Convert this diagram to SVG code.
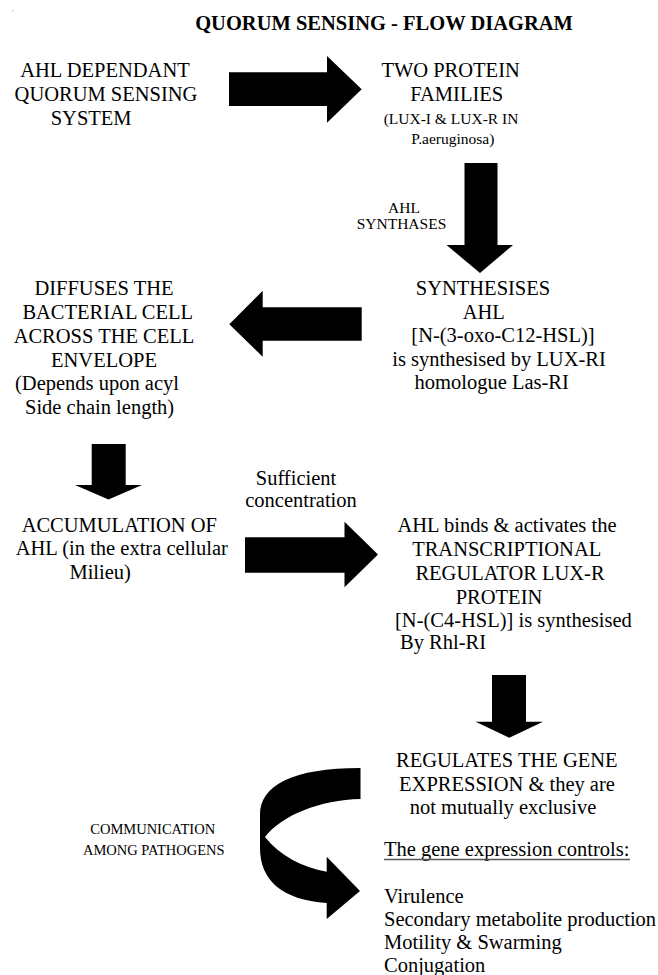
<svg xmlns="http://www.w3.org/2000/svg" width="658" height="975" viewBox="0 0 658 975">
<style>
text{font-family:"Liberation Serif","Times New Roman",serif;font-size:20.5px;fill:#000}
.m{text-anchor:middle}
.sm{font-size:15.5px}
.xs{font-size:14.5px}
.b{font-weight:bold}
.arrow{fill:#000;stroke:none}
</style>
<rect width="658" height="975" fill="#fff"/>
<circle cx="12.7" cy="10.7" r="0.7" fill="#aaa"/>
<g id="title"><text class="b m" x="384" y="30">QUORUM SENSING - FLOW DIAGRAM</text></g>

<g id="connectors">
  <path class="arrow" d="M229 72.3H327V56L361.7 89.3L327 122.7V106H229Z"/>
  <path class="arrow" d="M464.5 163H497.5V245H513L480 273L446.5 245H464.5Z"/>
  <path class="arrow" d="M229.3 324.3L262.7 290.7V307.3H361.7V340.7H262.7V356.7Z"/>
  <path class="arrow" d="M91.7 444H125.7V485H142L108.5 499.5L75 485H91.7Z"/>
  <path class="arrow" d="M245 537.3H344.5V521.7L378 554.5L344.5 587.3V572.7H245Z"/>
  <path class="arrow" d="M492 675H526V721.7H543L509.3 737.7L475.6 721.7H492Z"/>
  <path class="arrow" d="M360.5 768L360.5 799C320 800 282 815 265 837C280 856 302 867 326.7 871.7L326.7 856.7L360 891L326.7 919L326.7 903C282 900 260 880 260 848L260 815C260 785 293 768 360.5 768Z"/>
</g>

<g id="label-synthases">
  <text class="sm m" x="404" y="213">AHL</text>
  <text class="sm m" x="401.5" y="229">SYNTHASES</text>
</g>
<g id="label-sufficient">
  <text class="m" x="296" y="485">Sufficient</text>
  <text class="m" x="301" y="507">concentration</text>
</g>
<g id="label-communication">
  <text class="xs m" x="152.7" y="833.5">COMMUNICATION</text>
  <text class="xs m" x="153.8" y="855">AMONG PATHOGENS</text>
</g>

<g id="node-ahl-system">
  <text class="m" x="105" y="77">AHL DEPENDANT</text>
  <text class="m" x="106" y="101">QUORUM SENSING</text>
  <text x="50.7" y="124.5">SYSTEM</text>
</g>
<g id="node-two-protein">
  <text class="m" x="450.6" y="77">TWO PROTEIN</text>
  <text class="m" x="456.7" y="101">FAMILIES</text>
  <text class="sm m" x="451" y="123.5">(LUX-I &amp; LUX-R IN</text>
  <text class="sm m" x="452.8" y="143.5">P.aeruginosa)</text>
</g>
<g id="node-synthesises">
  <text class="m" x="483" y="295">SYNTHESISES</text>
  <text class="m" x="483.7" y="318.5">AHL</text>
  <text class="m" x="503" y="342">[N-(3-oxo-C12-HSL)]</text>
  <text class="m" x="499" y="365.5">is synthesised by LUX-RI</text>
  <text class="m" x="491.7" y="389">homologue Las-RI</text>
</g>
<g id="node-diffuses">
  <text class="m" x="104" y="295">DIFFUSES THE</text>
  <text class="m" x="107.7" y="319">BACTERIAL CELL</text>
  <text class="m" x="104" y="343">ACROSS THE CELL</text>
  <text class="m" x="104" y="367">ENVELOPE</text>
  <text x="15" y="390">(Depends upon acyl</text>
  <text x="25" y="414">Side chain length)</text>
</g>
<g id="node-accumulation">
  <text class="m" x="119.3" y="532">ACCUMULATION OF</text>
  <text class="m" x="121.8" y="555">AHL (in the extra cellular</text>
  <text class="m" x="100.2" y="578.5">Milieu)</text>
</g>
<g id="node-binds">
  <text class="m" x="507" y="532">AHL binds &amp; activates the</text>
  <text class="m" x="506.7" y="556">TRANSCRIPTIONAL</text>
  <text class="m" x="510" y="580">REGULATOR LUX-R</text>
  <text class="m" x="499" y="604">PROTEIN</text>
  <text x="395" y="627">[N-(C4-HSL)] is synthesised</text>
  <text x="400" y="649">By Rhl-RI</text>
</g>
<g id="node-regulates">
  <text class="m" x="506.8" y="767">REGULATES THE GENE</text>
  <text class="m" x="507" y="791">EXPRESSION &amp; they are</text>
  <text class="m" x="503" y="814">not mutually exclusive</text>
</g>
<g id="node-controls">
  <text x="384" y="856">The gene expression controls:</text>
  <line x1="384" y1="859.5" x2="630" y2="859.5" stroke="#555" stroke-width="1.3"/>
  <text x="384" y="902.5">Virulence</text>
  <text x="384" y="925.5">Secondary metabolite production</text>
  <text x="384" y="948.5">Motility &amp; Swarming</text>
  <text x="384" y="971.5">Conjugation</text>
</g>
</svg>
